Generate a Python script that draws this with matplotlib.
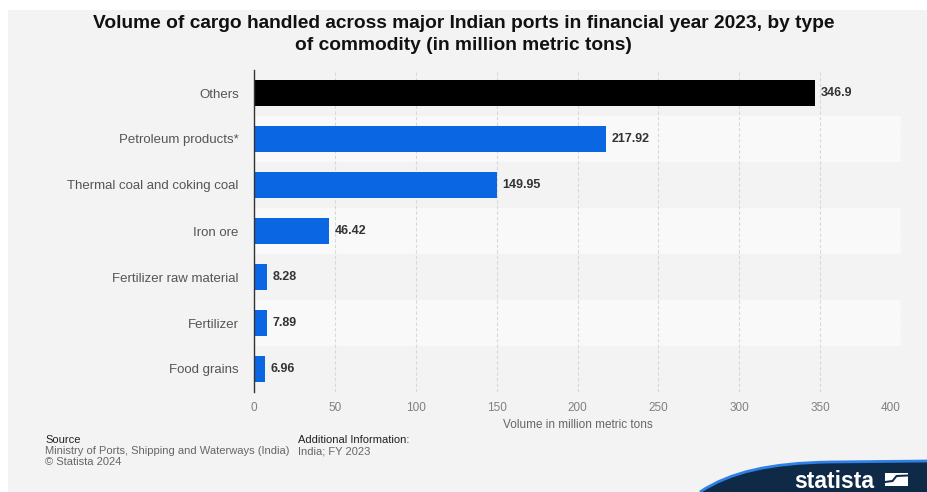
import numpy as np
import matplotlib.pyplot as plt
from matplotlib.patches import Rectangle, PathPatch
from matplotlib.path import Path

plt.rcParams['font.family'] = ['Liberation Sans', 'DejaVu Sans']

# cargo volumes by commodity, FY 2023
categories = ['Others', 'Petroleum products*', 'Thermal coal and coking coal', 'Iron ore',
              'Fertilizer raw material', 'Fertilizer', 'Food grains']
volumes = [346.9, 217.92, 149.95, 46.42, 8.28, 7.89, 6.96]
labels = ['346.9', '217.92', '149.95', '46.42', '8.28', '7.89', '6.96']
colors = ['#000000', '#0b66e3', '#0b66e3', '#0b66e3', '#0b66e3', '#0b66e3', '#0b66e3']
xticks = [0, 50, 100, 150, 200, 250, 300, 350, 400]

W, H = 927, 492
fig = plt.figure(figsize=(W / 100, H / 100), dpi=100)
fig.patch.set_facecolor('white')


def fx(px):
    return px / W


def fy(py):
    return 1 - py / H


# grey panel behind everything
fig.patches.append(Rectangle((fx(8), 0), 1, fy(10), transform=fig.transFigure,
                             facecolor='#f3f3f3', edgecolor='none', zorder=-10))

ax = fig.add_axes([fx(254), fy(392), 647 / W, 322 / H])
ax.set_facecolor('none')

y = np.arange(len(categories))
ax.set_ylim(len(categories) - 0.5, -0.5)
ax.set_xlim(0, 400)

# alternating row bands
for i in y:
    c = '#f3f3f3' if i % 2 == 0 else '#f9f9f9'
    ax.add_patch(Rectangle((0, i - 0.5), 400, 1, facecolor=c, edgecolor='none', zorder=0))

ax.barh(y, volumes, height=0.58, color=colors, zorder=3)

for yi, v, t in zip(y, volumes, labels):
    ax.annotate(t, (v, yi), xytext=(4, 0), textcoords='offset points', va='center', ha='left',
                fontsize=9, fontweight='bold', color='#333333', zorder=4)

ax.set_xticks(xticks)
ax.set_xticklabels([str(t) for t in xticks], color='#808080', fontsize=8.5)
ax.get_xticklabels()[-1].set_ha('right')
ax.set_yticks(y)
ax.set_yticklabels(categories, color='#555555', fontsize=9.5)
ax.tick_params(axis='both', length=0)
ax.tick_params(axis='x', pad=7)
ax.tick_params(axis='y', pad=11)
ax.grid(axis='x', color='#d8d8d8', linestyle=(0, (3, 2)), linewidth=0.8, zorder=1)
ax.set_axisbelow(True)
for s in ['top', 'right', 'bottom']:
    ax.spines[s].set_visible(False)
ax.spines['left'].set_color('#333333')
ax.spines['left'].set_linewidth(1)
ax.spines['left'].set_zorder(5)
ax.set_xlabel('Volume in million metric tons', color='#666666', fontsize=8.5, labelpad=4)

fig.text(0.5, fy(23), 'Volume of cargo handled across major Indian ports in financial year 2023, by type',
         ha='center', va='center', fontsize=13.8, fontweight='bold', color='#111111')
fig.text(0.5, fy(46), 'of commodity (in million metric tons)',
         ha='center', va='center', fontsize=13.8, fontweight='bold', color='#111111')

# footer
fig.text(fx(45), fy(440), 'Source', fontsize=8, color='#222222', va='center')
fig.text(fx(45), fy(451), 'Ministry of Ports, Shipping and Waterways (India)', fontsize=8,
         color='#666666', va='center')
fig.text(fx(45), fy(462), '\u00a9 Statista 2024', fontsize=8, color='#666666', va='center')
fig.text(fx(298), fy(440), 'Additional Information:', fontsize=8, color='#222222', va='center')
fig.text(fx(298), fy(451), 'India; FY 2023', fontsize=8, color='#666666', va='center')

# statista badge in the bottom-right corner
verts = [(700, 492), (730, 472), (770, 463), (830, 462), (927, 461), (927, 492), (700, 492)]
codes = [Path.MOVETO, Path.CURVE4, Path.CURVE4, Path.CURVE4, Path.LINETO, Path.LINETO, Path.CLOSEPOLY]
badge = Path([(fx(vx), fy(vy)) for vx, vy in verts], codes)
fig.patches.append(PathPatch(badge, transform=fig.transFigure, facecolor='#0f2a47',
                             edgecolor='none', zorder=2))
edge = Path([(fx(vx), fy(vy)) for vx, vy in verts[:5]], codes[:5])
fig.patches.append(PathPatch(edge, transform=fig.transFigure, facecolor='none',
                             edgecolor='#2f7fe8', linewidth=2, zorder=3))
fig.text(fx(834), fy(481), 'statista', ha='center', va='center', fontsize=16.5,
         fontweight='bold', color='white', zorder=4)
fig.patches.append(Rectangle((fx(885), fy(486)), 23 / W, 13 / H, transform=fig.transFigure,
                             facecolor='white', edgecolor='none', zorder=4))
slash = [(885, 483), (893, 482), (897, 477), (908, 476.5), (908, 474.5), (896, 475),
         (892, 480), (885, 481), (885, 483)]
fig.patches.append(PathPatch(Path([(fx(a), fy(b)) for a, b in slash]),
                             transform=fig.transFigure, facecolor='#0f2a47', edgecolor='none', zorder=5))

fig.savefig('out.png', dpi=100, facecolor=fig.get_facecolor())
